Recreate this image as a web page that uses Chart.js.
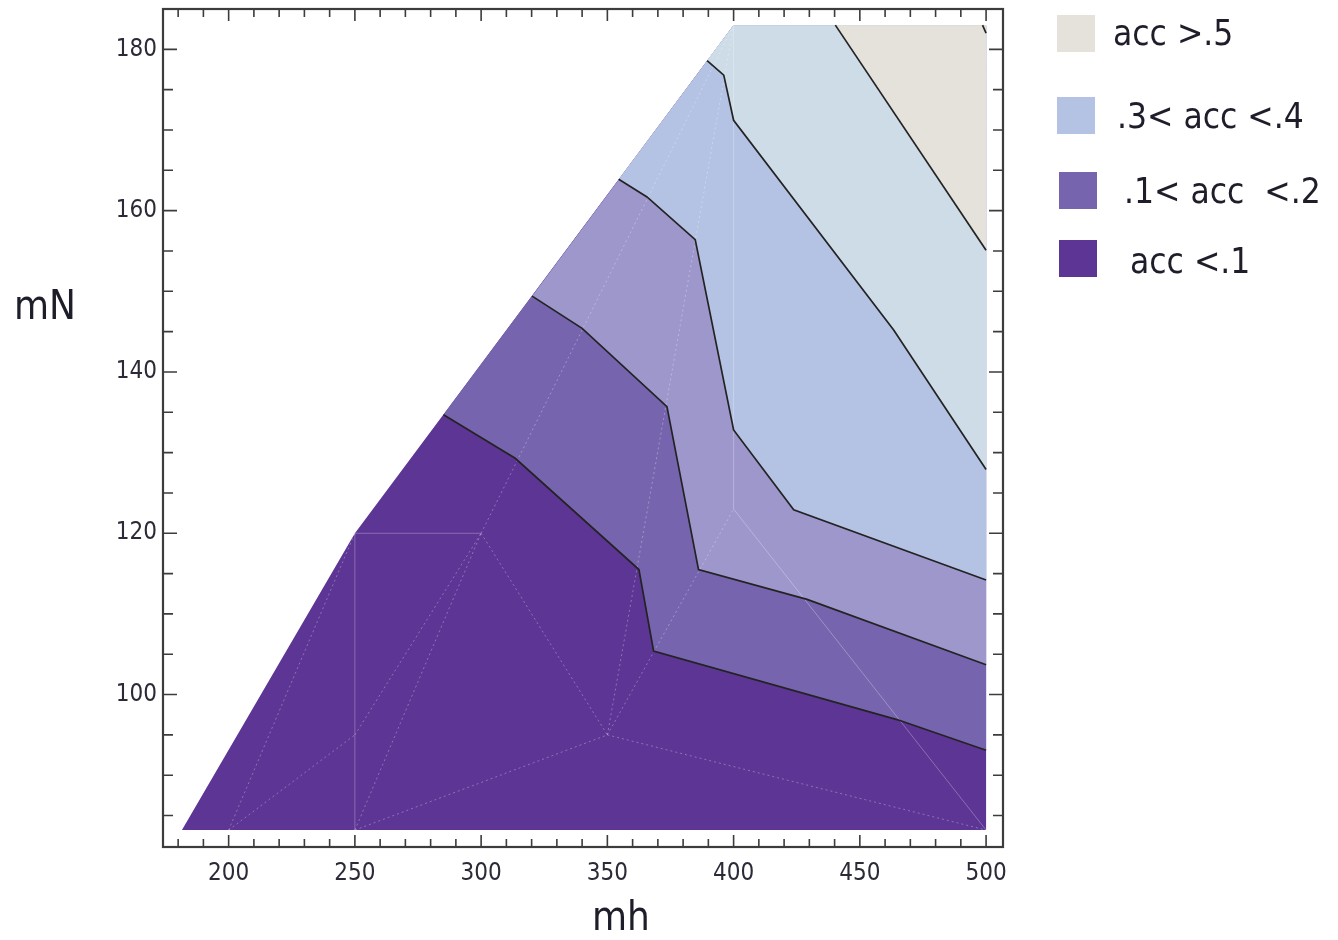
<!DOCTYPE html>
<html>
<head>
<meta charset="utf-8">
<script src="https://cdn.jsdelivr.net/npm/chart.js@4.4.0/dist/chart.umd.min.js"></script>
<style>
  body { margin: 0; background: #fff; }
  #wrap { position: relative; width: 1338px; height: 940px; font-family: "DejaVu Sans Condensed", "DejaVu Sans", sans-serif; color: #1e1e2a; }
  canvas { position: absolute; left: 0; top: 0; }
  .axisTitle { position: absolute; font-size: 40px; line-height: 40px; }
  .legBox { position: absolute; width: 38px; height: 37px; }
  .legText { position: absolute; font-size: 35px; line-height: 38px; white-space: pre; }
</style>
</head>
<body>
<div id="wrap">
  <canvas id="myChart" width="1338" height="940"></canvas>
  <div class="axisTitle" style="left:14px; top:285px;">mN</div>
  <div class="axisTitle" style="left:592px; top:896px;">mh</div>
  <div id="legend"></div>
</div>
<script>
// axis ticks
const xLabels = [200, 250, 300, 350, 400, 450, 500];
const yLabels = [100, 120, 140, 160, 180];

// outline of the computed region (mh, mN)
const domainEdge = [[181.5, 83.2], [250, 120], [400, 183], [500, 183], [500, 83.2]];
const domainTop = [[400, 183], [500, 183]];

// contour lines, left to right
const acc01 = [[285.1, 134.7], [313.5, 129.3], [362.5, 115.5], [368.3, 105.4], [464.7, 96.9], [500, 93.1]];
const acc02 = [[320.2, 149.4], [340.0, 145.4], [373.6, 135.7], [386.1, 115.5], [429.1, 111.8], [500, 103.7]];
const acc03 = [[354.5, 163.9], [365.7, 161.7], [384.8, 156.4], [400.0, 132.8], [423.8, 122.9], [500, 114.2]];
const acc04 = [[389.5, 178.6], [396.1, 176.8], [400.0, 171.2], [463.4, 145.2], [500, 127.9]];
const acc05 = [[440.3, 183], [500, 155.1]];
const acc06 = [[498.6, 183], [500, 182.0]];

const bandLabels = ['acc <.1', '.1< acc  <.2', '.2< acc <.3', '.3< acc <.4', '.4< acc <.5', 'acc >.5'];
const bandColors = ['#5d3594', '#7665ae', '#9d97cb', '#b4c2e4', '#cddce6', '#e4e2da'];

// faint mesh of the sampled points
const meshNodes = {
    B: [200, 83.2], C: [250, 83.2], D: [250, 95], E: [250, 120], F: [300, 120],
    G: [350, 95], H: [400, 123], I: [500, 83.2], J: [400, 183]
};
const meshSolid = [['C', 'E'], ['E', 'F'], ['H', 'J'], ['H', 'I']];
const meshDotted = [['B', 'D'], ['D', 'F'], ['B', 'E'], ['C', 'F'], ['F', 'G'], ['C', 'G'], ['G', 'I'], ['G', 'H'], ['G', 'J'], ['F', 'J']];

// legend entries shown on the right
const legendEntries = [
    { label: 'acc >.5', band: 5 },
    { label: '.3< acc <.4', band: 3 },
    { label: '.1< acc  <.2', band: 1 },
    { label: ' acc <.1', band: 0 }
];

function pts(list) {
    return list.map(p => ({ x: p[0], y: p[1] }));
}

let datasets = [];

// painter's order: whole region first, then the area above each contour
datasets.push({
    label: bandLabels[0], data: pts(domainEdge), showLine: true, fill: 'shape',
    backgroundColor: bandColors[0], borderWidth: 0, pointRadius: 0, order: 20
});
[acc01, acc02, acc03, acc04].forEach((line, i) => {
    datasets.push({
        label: bandLabels[i + 1], data: pts(line.concat([domainTop[1], domainTop[0]])),
        showLine: true, fill: 'shape', backgroundColor: bandColors[i + 1],
        borderWidth: 0, pointRadius: 0, order: 19 - i
    });
});
datasets.push({
    label: bandLabels[5], data: pts(acc05.concat([domainTop[1]])), showLine: true, fill: 'shape',
    backgroundColor: bandColors[5], borderWidth: 0, pointRadius: 0, order: 15
});

meshSolid.forEach(seg => {
    datasets.push({
        data: pts(seg.map(k => meshNodes[k])), showLine: true, fill: false,
        borderColor: 'rgba(255,255,255,0.28)', borderWidth: 1, pointRadius: 0, order: 5
    });
});
meshDotted.forEach(seg => {
    datasets.push({
        data: pts(seg.map(k => meshNodes[k])), showLine: true, fill: false,
        borderColor: 'rgba(255,255,255,0.3)', borderWidth: 1, borderDash: [2, 3],
        pointRadius: 0, order: 5
    });
});

[acc01, acc02, acc03, acc04, acc05, acc06].forEach(line => {
    datasets.push({
        data: pts(line), showLine: true, fill: false, borderColor: '#232323',
        borderWidth: 1.7, pointRadius: 0, order: 1
    });
});

// frame with inward ticks on all four sides
const frameTicks = {
    id: 'frameTicks',
    afterDatasetsDraw(chart) {
        const { ctx, chartArea: a, scales: { x, y } } = chart;
        ctx.save();
        ctx.strokeStyle = '#3c3c3c';
        ctx.lineWidth = 1.6;
        ctx.beginPath();
        for (let v = 180; v <= 500; v += 10) {
            const px = x.getPixelForValue(v);
            const len = xLabels.includes(v) ? 12 : 8;
            ctx.moveTo(px, a.bottom); ctx.lineTo(px, a.bottom - len);
            ctx.moveTo(px, a.top); ctx.lineTo(px, a.top + len);
        }
        for (let v = 85; v <= 180; v += 5) {
            const py = y.getPixelForValue(v);
            const len = yLabels.includes(v) ? 14 : 10;
            ctx.moveTo(a.left, py); ctx.lineTo(a.left + len, py);
            ctx.moveTo(a.right, py); ctx.lineTo(a.right - len, py);
        }
        ctx.stroke();
        ctx.lineWidth = 2.2;
        ctx.strokeRect(a.left, a.top, a.right - a.left, a.bottom - a.top);
        ctx.restore();
    }
};

const tickFont = { family: '"DejaVu Sans Condensed", "DejaVu Sans", sans-serif', size: 24 };

let config = {
    type: 'scatter',
    data: { datasets: datasets },
    options: {
        responsive: false,
        animation: false,
        events: [],
        layout: { padding: { left: 0, top: 9, right: 335, bottom: 0 } },
        plugins: {
            legend: { display: false },
            tooltip: { enabled: false }
        },
        scales: {
            x: {
                type: 'linear', min: 174, max: 506.7,
                afterFit: s => { s.height = 93; s.paddingLeft = 0; s.paddingRight = 0; },
                afterBuildTicks: s => { s.ticks = xLabels.map(v => ({ value: v })); },
                grid: { display: false, drawTicks: false },
                border: { display: false },
                ticks: { padding: 12, font: tickFont, color: '#2b2b38', autoSkip: false, maxRotation: 0 }
            },
            y: {
                type: 'linear', min: 81.1, max: 185,
                afterFit: s => { s.width = 163; s.paddingTop = 0; s.paddingBottom = 0; },
                afterBuildTicks: s => { s.ticks = yLabels.map(v => ({ value: v })); },
                grid: { display: false, drawTicks: false },
                border: { display: false },
                ticks: { padding: 6, font: tickFont, color: '#2b2b38', autoSkip: false }
            }
        }
    },
    plugins: [frameTicks]
};

new Chart(document.getElementById('myChart'), config);

// legend boxes and labels
const legendPos = [
    { box: [1057, 15], text: [1113, 14] },
    { box: [1057, 97], text: [1117, 97] },
    { box: [1059, 172], text: [1124, 172] },
    { box: [1059, 240], text: [1120, 242] }
];
let legend = document.getElementById('legend');
legendEntries.forEach((entry, i) => {
    let box = document.createElement('div');
    box.className = 'legBox';
    box.style.left = legendPos[i].box[0] + 'px';
    box.style.top = legendPos[i].box[1] + 'px';
    box.style.background = bandColors[entry.band];
    legend.appendChild(box);
    let text = document.createElement('div');
    text.className = 'legText';
    text.style.left = legendPos[i].text[0] + 'px';
    text.style.top = legendPos[i].text[1] + 'px';
    text.textContent = entry.label;
    legend.appendChild(text);
});
</script>
</body>
</html>
